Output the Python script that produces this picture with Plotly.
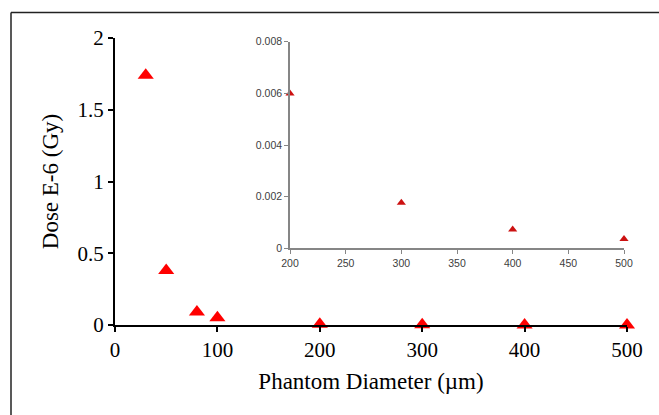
import plotly.graph_objects as go

# Main chart data
diameter = [30, 50, 80, 100, 200, 300, 400, 500]
dose = [1.74, 0.38, 0.09, 0.05, 0.006, 0.0017, 0.0007, 0.0003]

# Inset data
inset_diameter = [200, 300, 400, 500]
inset_dose = [0.006, 0.00177, 0.00073, 0.00037]

main_xticks = [0, 100, 200, 300, 400, 500]
main_yticks = [0, 0.5, 1, 1.5, 2]
inset_xticks = [200, 250, 300, 350, 400, 450, 500]
inset_yticks = [0, 0.002, 0.004, 0.006, 0.008]

W, H = 659, 415
ml, mr, mt, mb = 115, 32, 37.5, 89.5
pw, ph = W - ml - mr, H - mt - mb

def px2x(px):
    return (px - ml) / pw

def py2y(py):
    return (H - mb - py) / ph

fig = go.Figure()
fig.add_trace(go.Scatter(
    x=diameter, y=dose, mode="markers",
    marker=dict(symbol="triangle-up", size=14, color="#ff0000"),
    cliponaxis=False, showlegend=False, xaxis="x", yaxis="y"))
fig.add_trace(go.Scatter(
    x=inset_diameter, y=inset_dose, mode="markers",
    marker=dict(symbol="triangle-up", size=8, color="#cc1111"),
    cliponaxis=False, showlegend=False, xaxis="x2", yaxis="y2"))

serif = "Liberation Serif, Times New Roman, serif"
narrow = "Liberation Sans Narrow, Liberation Sans, Arial, sans-serif"

fig.update_layout(
    width=W, height=H,
    margin=dict(l=ml, r=mr, t=mt, b=mb, pad=0),
    paper_bgcolor="white", plot_bgcolor="white",
    xaxis=dict(range=[0, 500], tickvals=main_xticks, showgrid=False, zeroline=False,
               showline=True, linecolor="black", linewidth=2,
               ticks="outside", ticklen=5, tickwidth=2, tickcolor="black",
               tickfont=dict(family=serif, size=21, color="black"),
               title=dict(text="Phantom Diameter (µm)",
                          font=dict(family=serif, size=23, color="black"), standoff=12),
               domain=[0, 1]),
    yaxis=dict(range=[0, 2], tickvals=main_yticks, showgrid=False, zeroline=False,
               showline=True, linecolor="black", linewidth=2,
               ticks="outside", ticklen=5, tickwidth=2, tickcolor="black",
               tickfont=dict(family=serif, size=21, color="black"),
               title=dict(text="Dose E-6 (Gy)",
                          font=dict(family=serif, size=23, color="black"), standoff=12),
               domain=[0, 1]),
    xaxis2=dict(range=[200, 500], tickvals=inset_xticks, showgrid=False, zeroline=False,
                showline=True, linecolor="#868686", linewidth=1.5,
                ticks="outside", ticklen=4, tickcolor="#868686",
                tickfont=dict(family=narrow, size=10.5, color="#404040"),
                domain=[px2x(290), px2x(624)], anchor="y2"),
    yaxis2=dict(range=[0, 0.008], tickvals=inset_yticks, showgrid=False, zeroline=False,
                showline=True, linecolor="#868686", linewidth=1.5,
                ticks="outside", ticklen=4, tickcolor="#868686",
                tickfont=dict(family=narrow, size=10.5, color="#404040"),
                domain=[py2y(248.7), py2y(41.3)], anchor="x2"),
    shapes=[
        dict(type="line", xref="paper", yref="paper",
             x0=px2x(11), x1=px2x(662), y0=py2y(12), y1=py2y(12),
             line=dict(color="#222222", width=1.5)),
        dict(type="line", xref="paper", yref="paper",
             x0=px2x(11), x1=px2x(11), y0=py2y(12), y1=py2y(418),
             line=dict(color="#222222", width=1.5)),
    ],
)

fig.write_html("out.html")
